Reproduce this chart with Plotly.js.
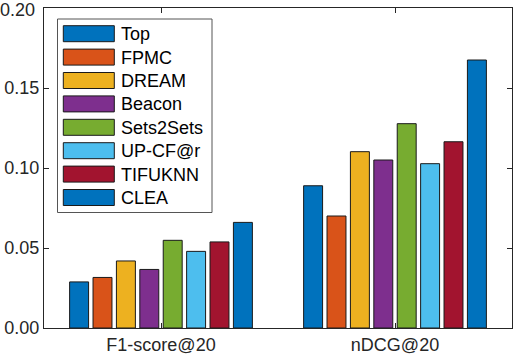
<!DOCTYPE html>
<html>
<head>
<meta charset="utf-8">
<script src="https://cdn.plot.ly/plotly-3.0.1.min.js"></script>
<style>html,body{margin:0;padding:0;background:#fff;}#chart{width:514px;height:356px;}</style>
</head>
<body>
<div id="chart"></div>
<script>
const categories = ['F1-score@20', 'nDCG@20'];
const methods = ['Top', 'FPMC', 'DREAM', 'Beacon', 'Sets2Sets', 'UP-CF@r', 'TIFUKNN', 'CLEA'];
const topVals       = [0.0288, 0.0889];
const fpmcVals      = [0.0316, 0.0700];
const dreamVals     = [0.0419, 0.1102];
const beaconVals    = [0.0366, 0.1050];
const sets2setsVals = [0.0548, 0.1277];
const upcfVals      = [0.0479, 0.1027];
const tifuknnVals   = [0.0538, 0.1164];
const cleaVals      = [0.0660, 0.1675];
const yTickVals = [0, 0.05, 0.10, 0.15, 0.20];
const yTickText = ['0.00', '0.05', '0.10', '0.15', '0.20'];

const seriesValues = [topVals, fpmcVals, dreamVals, beaconVals, sets2setsVals, upcfVals, tifuknnVals, cleaVals];
const colors = ['#0072BD', '#D95319', '#EDB120', '#7E2F8E', '#77AC30', '#4DBEEE', '#A2142F', '#0072BD'];

const font = 'Liberation Sans, Arial, Helvetica, sans-serif';
const axisColor = '#262626';

const traces = methods.map((m, i) => ({
  type: 'bar',
  name: m,
  x: categories,
  y: seriesValues[i],
  marker: {color: colors[i], line: {color: '#1a1a1a', width: 1}},
  showlegend: false,
  hoverinfo: 'skip'
}));

// Plot area in pixels
const W = 514, H = 356;
const mL = 44, mR = 2, mT = 8, mB = 28;
const pw = W - mL - mR, ph = H - mT - mB;
const px2x = p => (p - mL) / pw;
const py2y = p => (H - mB - p) / ph;

const yMax = yTickVals[yTickVals.length - 1];

// Custom MATLAB-style legend
const shapes = [];
const annotations = [];
const legLeft = 57.5, legTop = 19, legRight = 212, legBottom = 212.5;
shapes.push({type: 'rect', xref: 'paper', yref: 'paper',
  x0: px2x(legLeft), x1: px2x(legRight), y0: py2y(legBottom), y1: py2y(legTop),
  fillcolor: '#ffffff', line: {color: '#555555', width: 1}, layer: 'above'});
const rowTop0 = 25.7, rowPitch = 23.4, swH = 16, swL = 63.3, swR = 114.3, txtX = 118.5;
methods.forEach((m, i) => {
  const t = rowTop0 + i * rowPitch;
  shapes.push({type: 'rect', xref: 'paper', yref: 'paper',
    x0: px2x(swL), x1: px2x(swR), y0: py2y(t + swH), y1: py2y(t),
    fillcolor: colors[i], line: {color: '#1a1a1a', width: 1}, layer: 'above'});
  annotations.push({xref: 'paper', yref: 'paper', x: px2x(txtX), y: py2y(t + swH / 2 + 0.5),
    xanchor: 'left', yanchor: 'middle', text: m, showarrow: false,
    font: {family: font, size: 18, color: '#000'}});
});

// Top tick label (Plotly culls the label touching the figure edge)
annotations.push({xref: 'paper', yref: 'y', x: px2x(35.5), y: yMax,
  xanchor: 'right', yanchor: 'middle', yshift: -2, borderpad: 0, text: yTickText[yTickText.length - 1], showarrow: false,
  font: {family: font, size: 18, color: '#262626'}});
const axisTickText = yTickText.slice(0, -1).concat(['']);

const layout = {
  width: W, height: H,
  margin: {l: mL, r: mR, t: mT, b: mB, pad: 0},
  paper_bgcolor: '#ffffff', plot_bgcolor: '#ffffff',
  barmode: 'group', bargap: 0.2, bargroupgap: 0.19,
  font: {family: font, size: 18, color: '#262626'},
  xaxis: {type: 'category', range: [-0.5, 1.5], showgrid: false, zeroline: false,
    showline: true, linecolor: axisColor, linewidth: 1, mirror: 'ticks',
    ticks: 'inside', ticklen: 5, tickcolor: axisColor, tickwidth: 1,
    tickfont: {family: font, size: 18, color: '#262626'}, fixedrange: true},
  yaxis: {range: [0, yMax], tickvals: yTickVals, ticktext: axisTickText, showgrid: false, zeroline: false,
    showline: true, linecolor: axisColor, linewidth: 1, mirror: 'ticks',
    ticks: 'inside', ticklen: 5, tickcolor: axisColor, tickwidth: 1,
    tickfont: {family: font, size: 18, color: '#262626'}, fixedrange: true},
  shapes: shapes,
  annotations: annotations,
  showlegend: false
};

Plotly.newPlot('chart', traces, layout, {displayModeBar: false, staticPlot: true});
</script>
</body>
</html>
